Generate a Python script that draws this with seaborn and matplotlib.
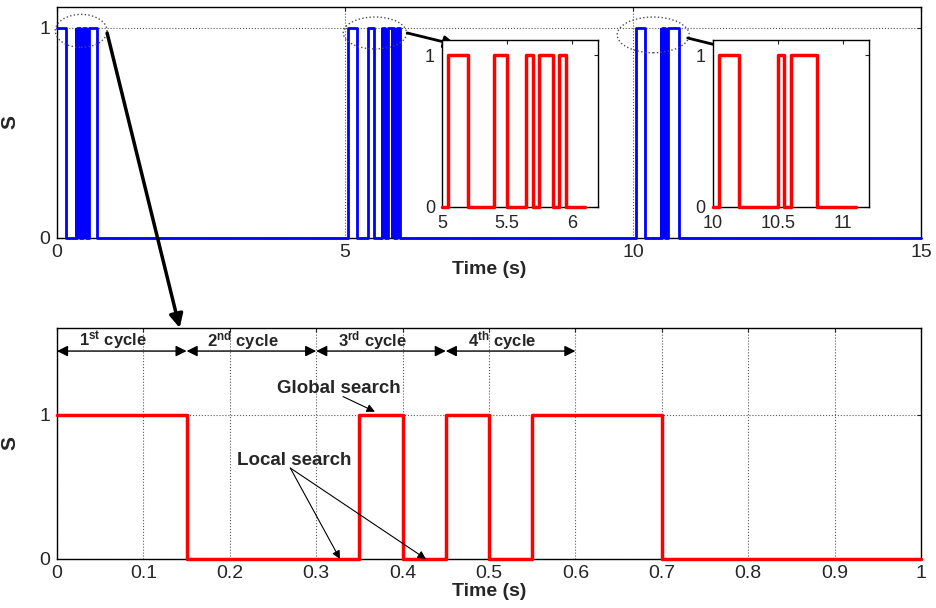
import matplotlib
matplotlib.use("Agg")
import matplotlib.pyplot as plt
import seaborn as sns
import pandas as pd
from matplotlib.patches import Ellipse

# switching signal, bottom panel (first second)
red_t = [0, 0.15, 0.35, 0.4, 0.45, 0.5, 0.55, 0.7, 1.0]
red_s = [1, 0, 1, 0, 1, 0, 1, 0, 0]

# zoomed insets
ins1_t = [5.0, 5.05, 5.2, 5.4, 5.5, 5.65, 5.7, 5.75, 5.85, 5.9, 5.95, 6.1]
ins1_s = [0, 1, 0, 1, 0, 1, 0, 1, 0, 1, 0, 0]
ins2_t = [10.0, 10.05, 10.2, 10.5, 10.55, 10.6, 10.8, 11.1]
ins2_s = [0, 1, 0, 1, 0, 1, 0, 0]

# full 15 s signal
blue_t = red_t[:-1] + ins1_t[1:-1] + ins2_t[1:-1] + [15.0]
blue_s = red_s[:-1] + ins1_s[1:-1] + ins2_s[1:-1] + [0]
# fast switching bursts (drawn filled)
dense = [(0.31, 0.57), (5.62, 5.75), (5.80, 5.97), (10.47, 10.61)]

cycles = [(0.0, 0.15, "1", "st"), (0.15, 0.3, "2", "nd"), (0.3, 0.45, "3", "rd"), (0.45, 0.6, "4", "th")]

sns.set_style("white")
plt.rcParams["font.family"] = ["Liberation Sans", "DejaVu Sans"]
plt.rcParams["mathtext.fontset"] = "custom"
plt.rcParams["mathtext.bf"] = "Liberation Sans:bold"
plt.rcParams["mathtext.rm"] = "Liberation Sans"

fig = plt.figure(figsize=(9.36, 6.08), dpi=100)
ax1 = fig.add_axes([0.0609, 0.6086, 0.9231, 0.3800])
ax2 = fig.add_axes([0.0609, 0.0806, 0.9231, 0.3800])
in1 = fig.add_axes([0.4722, 0.660, 0.1667, 0.274])
in2 = fig.add_axes([0.7614, 0.660, 0.1667, 0.274])

def style(ax, size=14):
    ax.tick_params(direction="in", length=3, labelsize=size, top=True, right=True)
    ax.tick_params(axis="x", pad=4)
    ax.tick_params(axis="y", pad=5)
    for sp in ax.spines.values():
        sp.set_color("black")
        sp.set_linewidth(1.0)

def grid(ax):
    ax.grid(True, ls=":", color="0.35", lw=0.8)
    ax.set_axisbelow(True)

# top panel
df_blue = pd.DataFrame({"t": blue_t, "s": blue_s})
sns.lineplot(data=df_blue, x="t", y="s", ax=ax1, drawstyle="steps-post", color="#0000ff",
             lw=2.0, zorder=3, clip_on=False, estimator=None)
for a, b in dense:
    ax1.fill_between([a, b], 0, 1, color="#0000ff", lw=0, zorder=3)
ax1.set_xlim(0, 15)
ax1.set_ylim(0, 1.1)
ax1.set_xticks([0, 5, 10, 15])
ax1.set_yticks([0, 1])
ax1.set_xticklabels(["0", "5", "10", "15"])
ax1.set_yticklabels(["0", "1"])
style(ax1)
grid(ax1)
ax1.set_xlabel("Time (s)", fontsize=14, fontweight="bold", labelpad=0)
ax1.set_ylabel("S", fontsize=15, fontweight="bold", labelpad=14)

for cx, cy, w, h in [(0.42, 0.986, 0.9, 0.157), (5.52, 0.976, 1.1, 0.152), (10.35, 0.967, 1.25, 0.17)]:
    ax1.add_patch(Ellipse((cx, cy), w, h, fill=False, ls=":", ec="0.3", lw=1.0, clip_on=False, zorder=4))

arrow_kw = dict(arrowstyle="-|>", color="black", lw=2.0, mutation_scale=18, shrinkA=0, shrinkB=0)
ax1.annotate("", xy=(6.93, 0.919), xytext=(6.08, 0.976), arrowprops=arrow_kw, zorder=5)
ax1.annotate("", xy=(11.79, 0.895), xytext=(10.95, 0.952), arrowprops=arrow_kw, zorder=5)

# insets
for ax, t, s, lim, ticks, labels in [
        (in1, ins1_t, ins1_s, (5, 6.2), [5, 5.5, 6], ["5", "5.5", "6"]),
        (in2, ins2_t, ins2_s, (10, 11.2), [10, 10.5, 11], ["10", "10.5", "11"])]:
    ax.set_facecolor("white")
    sns.lineplot(x=t, y=s, ax=ax, drawstyle="steps-post", color="#ff0000", lw=2.5,
                 estimator=None, zorder=3, clip_on=False)
    ax.set_xlim(*lim)
    ax.set_ylim(0, 1.1)
    ax.set_xticks(ticks)
    ax.set_xticklabels(labels)
    ax.set_yticks([0, 1])
    ax.set_yticklabels(["0", "1"])
    style(ax, 13)
    ax.tick_params(axis="x", pad=6)
    ax.tick_params(axis="y", pad=5)
    ax.set_xlabel("")
    ax.set_ylabel("")

# bottom panel
df_red = pd.DataFrame({"t": red_t, "s": red_s})
sns.lineplot(data=df_red, x="t", y="s", ax=ax2, drawstyle="steps-post", color="#ff0000",
             lw=2.5, zorder=3, clip_on=False, estimator=None)
ax2.set_xlim(0, 1)
ax2.set_ylim(0, 1.6)
ax2.set_xticks([i / 10 for i in range(11)])
ax2.set_xticklabels(["0", "0.1", "0.2", "0.3", "0.4", "0.5", "0.6", "0.7", "0.8", "0.9", "1"])
ax2.set_yticks([0, 1])
ax2.set_yticklabels(["0", "1"])
style(ax2)
grid(ax2)
ax2.set_xlabel("Time (s)", fontsize=14, fontweight="bold", labelpad=1)
ax2.set_ylabel("S", fontsize=15, fontweight="bold", labelpad=14)

for a, b, n, sup in cycles:
    ax2.annotate("", xy=(b, 1.44), xytext=(a, 1.44),
                 arrowprops=dict(arrowstyle="<|-|>", color="black", lw=1.0, mutation_scale=16,
                                 shrinkA=0, shrinkB=0))
    ax2.text(a + 0.065, 1.51, r"$\mathbf{" + n + "^{" + sup + "}}$ cycle", fontsize=12,
             fontweight="bold", ha="center", va="center")

ax2.text(0.326, 1.18, "Global search", fontsize=13.5, fontweight="bold", ha="center", va="center")
ax2.annotate("", xy=(0.368, 1.02), xytext=(0.331, 1.125),
             arrowprops=dict(arrowstyle="-|>", color="black", lw=0.8, mutation_scale=12, shrinkA=0, shrinkB=0))
ax2.text(0.274, 0.68, "Local search", fontsize=13.5, fontweight="bold", ha="center", va="center")
for tx in [0.3275, 0.427]:
    ax2.annotate("", xy=(tx, 0.0), xytext=(0.27, 0.63),
                 arrowprops=dict(arrowstyle="-|>", color="black", lw=0.8, mutation_scale=12, shrinkA=0, shrinkB=0))

# big arrow from first cycle down to the zoomed panel
fig.add_artist(matplotlib.patches.ConnectionPatch(
    xyA=(0.87, 0.976), coordsA=ax1.transData, xyB=(0.142, 1.6), coordsB=ax2.transData,
    arrowstyle="-|>", color="black", lw=2.5, mutation_scale=20, zorder=10))

fig.savefig("out.png", dpi=100)
